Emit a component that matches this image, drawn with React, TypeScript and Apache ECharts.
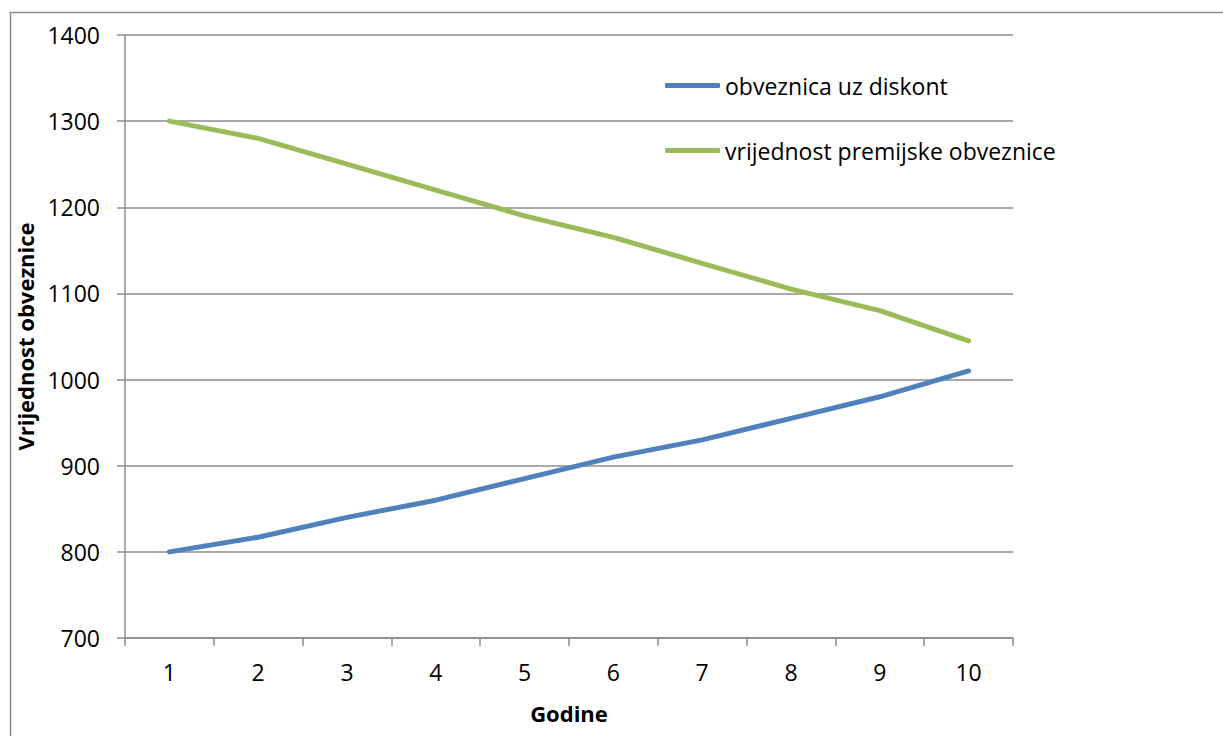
import React, { useEffect, useRef } from "react";
import * as echarts from "echarts";

const years = ["1", "2", "3", "4", "5", "6", "7", "8", "9", "10"];
const discountBond = [800, 817, 840, 860, 885, 910, 930, 955, 980, 1010];
const premiumBond = [1300, 1280, 1250, 1220, 1190, 1165, 1135, 1105, 1080, 1045];
const seriesNames = ["obveznica uz diskont", "vrijednost premijske obveznice"];

const FONT = "Open Sans";

export default function App() {
  const ref = useRef<HTMLDivElement>(null);
  useEffect(() => {
    document.body.style.margin = "0";
    const chart = echarts.init(ref.current!, null, { renderer: "svg" });
    chart.setOption({
      animation: false,
      backgroundColor: "#ffffff",
      textStyle: { fontFamily: FONT },
      graphic: [
        {
          type: "rect",
          shape: { x: 10.5, y: 12.5, width: 1240, height: 760 },
          style: { fill: "none", stroke: "#8c8c8c", lineWidth: 1.5 },
          silent: true,
        },
      ],
      grid: { left: 125, right: 210, top: 35, bottom: 98, containLabel: false },
      legend: {
        orient: "vertical",
        left: 660,
        top: 69,
        itemWidth: 55,
        itemHeight: 5,
        itemGap: 42,
        icon: "roundRect",
        textStyle: { fontFamily: FONT, fontSize: 23, color: "#000" },
        data: seriesNames,
      },
      xAxis: {
        type: "category",
        data: years,
        boundaryGap: true,
        name: "Godine",
        nameLocation: "middle",
        nameGap: 64,
        nameTextStyle: { fontFamily: FONT, fontSize: 22, fontWeight: "bold", color: "#000" },
        axisLine: { lineStyle: { color: "#8c8c8c", width: 1.5 } },
        axisTick: { show: true, alignWithLabel: false, length: 8, lineStyle: { color: "#8c8c8c", width: 1.5 } },
        axisLabel: { fontFamily: FONT, fontSize: 23, color: "#000", margin: 22 },
        splitLine: { show: false },
      },
      yAxis: {
        type: "value",
        min: 700,
        max: 1400,
        interval: 100,
        name: "Vrijednost obveznice",
        nameLocation: "middle",
        nameGap: 78,
        nameTextStyle: { fontFamily: FONT, fontSize: 22, fontWeight: "bold", color: "#000" },
        axisLine: { show: true, lineStyle: { color: "#8c8c8c", width: 1.5 } },
        axisTick: { show: true, length: 8, lineStyle: { color: "#8c8c8c", width: 1.5 } },
        axisLabel: { fontFamily: FONT, fontSize: 23, color: "#000", margin: 25, formatter: (v: number) => String(v) },
        splitLine: { show: true, lineStyle: { color: "#8c8c8c", width: 1.5 } },
      },
      series: [
        {
          name: seriesNames[0],
          type: "line",
          data: discountBond,
          symbol: "none",
          lineStyle: { color: "#4F81BD", width: 5, cap: "round", join: "round" },
          itemStyle: { color: "#4F81BD" },
        },
        {
          name: seriesNames[1],
          type: "line",
          data: premiumBond,
          symbol: "none",
          lineStyle: { color: "#9BBB59", width: 5, cap: "round", join: "round" },
          itemStyle: { color: "#9BBB59" },
        },
      ],
    });
    return () => chart.dispose();
  }, []);
  return <div ref={ref} style={{ width: 1223, height: 736 }} />;
}
